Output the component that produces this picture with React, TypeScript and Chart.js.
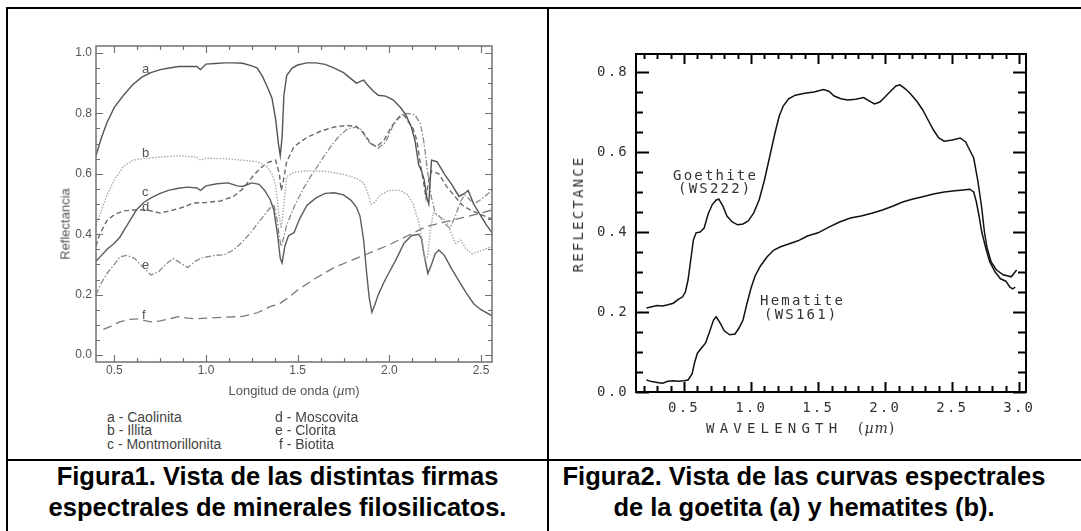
import React, { useEffect, useRef } from "react";
import { Chart, registerables } from "chart.js";

Chart.register(...registerables);

type Pt = [number, number];

// ---------- Figura 1: filosilicatos (wavelength µm, reflectance) ----------
const caolinita: Pt[] = [
  [0.40, 0.66], [0.43, 0.72], [0.46, 0.77], [0.50, 0.82], [0.55, 0.86], [0.60, 0.895], [0.65, 0.92],
  [0.70, 0.935], [0.75, 0.945], [0.80, 0.95], [0.85, 0.955], [0.90, 0.955], [0.95, 0.955], [0.97, 0.945],
  [1.00, 0.963], [1.05, 0.965], [1.10, 0.967], [1.15, 0.967], [1.20, 0.966], [1.25, 0.957], [1.28, 0.95],
  [1.31, 0.92], [1.34, 0.88], [1.36, 0.85], [1.38, 0.78], [1.395, 0.70], [1.405, 0.66], [1.415, 0.72],
  [1.425, 0.86], [1.44, 0.925], [1.47, 0.95], [1.50, 0.96], [1.55, 0.967], [1.60, 0.967], [1.65, 0.962],
  [1.70, 0.95], [1.75, 0.935], [1.79, 0.915], [1.82, 0.90], [1.84, 0.905], [1.86, 0.91], [1.88, 0.895],
  [1.91, 0.875], [1.94, 0.86], [1.98, 0.857], [2.02, 0.845], [2.06, 0.82], [2.09, 0.795], [2.12, 0.755],
  [2.14, 0.71], [2.16, 0.63], [2.175, 0.61], [2.19, 0.58], [2.205, 0.52], [2.215, 0.50], [2.23, 0.645],
  [2.26, 0.64], [2.30, 0.60], [2.34, 0.565], [2.38, 0.525], [2.41, 0.535], [2.43, 0.545], [2.46, 0.50],
  [2.50, 0.46], [2.53, 0.43], [2.56, 0.405],
];
const illita: Pt[] = [
  [0.40, 0.43], [0.43, 0.48], [0.46, 0.53], [0.50, 0.58], [0.55, 0.625], [0.60, 0.645], [0.68, 0.652],
  [0.75, 0.655], [0.85, 0.66], [0.95, 0.655], [0.97, 0.645], [1.00, 0.652], [1.10, 0.65], [1.20, 0.645],
  [1.28, 0.64], [1.33, 0.625], [1.36, 0.60], [1.38, 0.56], [1.395, 0.48], [1.41, 0.42], [1.42, 0.47],
  [1.44, 0.59], [1.48, 0.605], [1.55, 0.61], [1.65, 0.608], [1.75, 0.598], [1.82, 0.585], [1.86, 0.57],
  [1.88, 0.54], [1.90, 0.50], [1.92, 0.505], [1.95, 0.53], [2.00, 0.545], [2.06, 0.545], [2.10, 0.53],
  [2.13, 0.50], [2.16, 0.44], [2.18, 0.38], [2.195, 0.31], [2.21, 0.33], [2.225, 0.42], [2.24, 0.47],
  [2.27, 0.46], [2.31, 0.445], [2.34, 0.40], [2.36, 0.37], [2.39, 0.38], [2.42, 0.35], [2.45, 0.335],
  [2.50, 0.345], [2.56, 0.36],
];
const montmorillonita: Pt[] = [
  [0.40, 0.31], [0.43, 0.33], [0.46, 0.35], [0.50, 0.37], [0.53, 0.39], [0.56, 0.42], [0.59, 0.45],
  [0.62, 0.48], [0.66, 0.505], [0.70, 0.52], [0.75, 0.535], [0.80, 0.546], [0.85, 0.552], [0.90, 0.556],
  [0.95, 0.553], [0.97, 0.545], [1.00, 0.56], [1.06, 0.567], [1.12, 0.57], [1.17, 0.56], [1.20, 0.558],
  [1.25, 0.57], [1.29, 0.565], [1.32, 0.545], [1.35, 0.515], [1.37, 0.48], [1.39, 0.40], [1.405, 0.32],
  [1.415, 0.305], [1.43, 0.36], [1.45, 0.395], [1.48, 0.405], [1.51, 0.45], [1.55, 0.495], [1.60, 0.52],
  [1.65, 0.535], [1.70, 0.537], [1.75, 0.53], [1.79, 0.513], [1.82, 0.49], [1.84, 0.46], [1.86, 0.38],
  [1.875, 0.28], [1.89, 0.19], [1.905, 0.142], [1.92, 0.165], [1.94, 0.20], [1.97, 0.24], [2.00, 0.275],
  [2.04, 0.32], [2.08, 0.37], [2.12, 0.395], [2.16, 0.40], [2.175, 0.385], [2.19, 0.33], [2.21, 0.27],
  [2.23, 0.30], [2.25, 0.335], [2.27, 0.348], [2.30, 0.33], [2.34, 0.285], [2.38, 0.245], [2.42, 0.205],
  [2.46, 0.17], [2.50, 0.15], [2.56, 0.13],
];
const moscovita: Pt[] = [
  [0.40, 0.36], [0.42, 0.40], [0.46, 0.445], [0.50, 0.465], [0.55, 0.477], [0.60, 0.48], [0.68, 0.48],
  [0.75, 0.47], [0.82, 0.48], [0.88, 0.49], [0.93, 0.503], [1.00, 0.505], [1.08, 0.51], [1.15, 0.525],
  [1.20, 0.55], [1.26, 0.595], [1.30, 0.62], [1.34, 0.638], [1.38, 0.645], [1.40, 0.60], [1.41, 0.545],
  [1.42, 0.57], [1.44, 0.64], [1.48, 0.69], [1.55, 0.72], [1.62, 0.74], [1.70, 0.755], [1.77, 0.76],
  [1.82, 0.757], [1.86, 0.735], [1.90, 0.70], [1.93, 0.69], [1.97, 0.71], [2.01, 0.755], [2.05, 0.785],
  [2.08, 0.795], [2.10, 0.775], [2.13, 0.75], [2.15, 0.71], [2.17, 0.63], [2.19, 0.56], [2.20, 0.52],
  [2.215, 0.58], [2.23, 0.61], [2.27, 0.60], [2.31, 0.56], [2.35, 0.53], [2.40, 0.495], [2.45, 0.478],
  [2.50, 0.465], [2.56, 0.45],
];
const clorita: Pt[] = [
  [0.40, 0.20], [0.43, 0.24], [0.46, 0.27], [0.50, 0.30], [0.53, 0.325], [0.57, 0.33], [0.61, 0.32],
  [0.65, 0.295], [0.70, 0.265], [0.74, 0.275], [0.78, 0.30], [0.82, 0.32], [0.86, 0.305], [0.90, 0.29],
  [0.94, 0.31], [0.98, 0.322], [1.05, 0.33], [1.10, 0.332], [1.15, 0.348], [1.20, 0.375], [1.25, 0.41],
  [1.30, 0.45], [1.34, 0.48], [1.37, 0.50], [1.39, 0.44], [1.40, 0.39], [1.41, 0.36], [1.42, 0.38],
  [1.44, 0.43], [1.48, 0.49], [1.53, 0.55], [1.58, 0.60], [1.63, 0.645], [1.68, 0.69], [1.72, 0.72],
  [1.77, 0.748], [1.82, 0.755], [1.85, 0.745], [1.88, 0.71], [1.91, 0.695], [1.94, 0.685], [1.98, 0.705],
  [2.02, 0.76], [2.06, 0.795], [2.10, 0.80], [2.14, 0.795], [2.17, 0.765], [2.19, 0.70], [2.21, 0.60],
  [2.23, 0.52], [2.25, 0.47], [2.28, 0.455], [2.31, 0.43], [2.33, 0.42], [2.36, 0.46], [2.39, 0.51],
  [2.41, 0.53], [2.43, 0.52], [2.46, 0.50], [2.50, 0.515], [2.56, 0.545],
];
const biotita: Pt[] = [
  [0.44, 0.085], [0.48, 0.095], [0.53, 0.11], [0.58, 0.118], [0.63, 0.12], [0.66, 0.115], [0.70, 0.11],
  [0.75, 0.113], [0.80, 0.12], [0.85, 0.127], [0.90, 0.122], [0.95, 0.12], [1.00, 0.122], [1.10, 0.125],
  [1.20, 0.128], [1.28, 0.14], [1.35, 0.16], [1.40, 0.17], [1.45, 0.19], [1.50, 0.215], [1.60, 0.255],
  [1.70, 0.29], [1.80, 0.315], [1.90, 0.34], [2.00, 0.365], [2.10, 0.395], [2.20, 0.425], [2.30, 0.44],
  [2.40, 0.455], [2.50, 0.47], [2.56, 0.48],
];

// ---------- Figura 2: goethite / hematite ----------
const goethite: Pt[] = [
  [0.22, 0.21], [0.26, 0.213], [0.30, 0.216], [0.34, 0.215], [0.38, 0.218], [0.42, 0.222], [0.46, 0.232],
  [0.49, 0.238], [0.51, 0.25], [0.53, 0.28], [0.55, 0.33], [0.57, 0.38], [0.59, 0.398], [0.62, 0.40],
  [0.65, 0.41], [0.68, 0.445], [0.71, 0.468], [0.74, 0.48], [0.76, 0.482], [0.79, 0.465], [0.82, 0.44],
  [0.86, 0.425], [0.90, 0.418], [0.94, 0.42], [0.98, 0.428], [1.02, 0.448], [1.06, 0.48], [1.10, 0.53],
  [1.14, 0.59], [1.18, 0.65], [1.21, 0.69], [1.24, 0.715], [1.28, 0.733], [1.33, 0.742], [1.40, 0.747],
  [1.47, 0.75], [1.54, 0.756], [1.58, 0.752], [1.62, 0.74], [1.67, 0.733], [1.72, 0.73], [1.78, 0.732],
  [1.84, 0.736], [1.88, 0.728], [1.92, 0.72], [1.96, 0.725], [2.00, 0.738], [2.04, 0.752], [2.08, 0.765],
  [2.11, 0.768], [2.15, 0.758], [2.19, 0.745], [2.24, 0.725], [2.28, 0.705], [2.32, 0.68], [2.36, 0.655],
  [2.40, 0.635], [2.44, 0.627], [2.50, 0.63], [2.56, 0.635], [2.60, 0.625], [2.63, 0.605], [2.66, 0.585],
  [2.69, 0.53], [2.72, 0.46], [2.74, 0.40], [2.76, 0.36], [2.79, 0.325], [2.83, 0.305], [2.88, 0.293],
  [2.94, 0.288], [2.98, 0.305],
];
const hematite: Pt[] = [
  [0.22, 0.03], [0.26, 0.026], [0.30, 0.024], [0.34, 0.022], [0.38, 0.027], [0.42, 0.028], [0.46, 0.027],
  [0.50, 0.028], [0.53, 0.03], [0.56, 0.045], [0.58, 0.075], [0.60, 0.097], [0.63, 0.11], [0.66, 0.122],
  [0.69, 0.15], [0.72, 0.18], [0.74, 0.188], [0.77, 0.172], [0.80, 0.153], [0.84, 0.143], [0.88, 0.145],
  [0.91, 0.16], [0.94, 0.18], [0.97, 0.222], [1.00, 0.26], [1.03, 0.29], [1.07, 0.315], [1.12, 0.338],
  [1.17, 0.355], [1.22, 0.363], [1.28, 0.37], [1.35, 0.378], [1.42, 0.39], [1.50, 0.398], [1.58, 0.412],
  [1.66, 0.425], [1.74, 0.435], [1.82, 0.44], [1.90, 0.447], [1.98, 0.455], [2.06, 0.465], [2.13, 0.475],
  [2.20, 0.482], [2.28, 0.488], [2.36, 0.495], [2.44, 0.50], [2.52, 0.503], [2.58, 0.505], [2.63, 0.507],
  [2.66, 0.50], [2.68, 0.475], [2.70, 0.44], [2.72, 0.40], [2.75, 0.36], [2.78, 0.325], [2.82, 0.30],
  [2.86, 0.283], [2.90, 0.277], [2.93, 0.262], [2.95, 0.258], [2.97, 0.262],
];

// ---------- ticks / labels ----------
const fig1XTicks = [0.5, 1.0, 1.5, 2.0, 2.5];
const fig1YTicks = [0.0, 0.2, 0.4, 0.6, 0.8, 1.0];
const fig2XTicks = [0.5, 1.0, 1.5, 2.0, 2.5, 3.0];
const fig2YTicks = [0.0, 0.2, 0.4, 0.6, 0.8];
const fig1Legend1 = ["a - Caolinita", "b - Illita", "c - Montmorillonita"];
const fig1Legend2 = ["d - Moscovita", "e - Clorita", " f - Biotita"];

const SANS = "'Liberation Sans', Arial, Helvetica, sans-serif";
const MONO = "'DejaVu Sans Mono', monospace";

function steps(from: number, to: number, step: number): number[] {
  const out: number[] = [];
  for (let v = from; v <= to + 1e-9; v += step) out.push(+v.toFixed(4));
  return out;
}

type FrameCfg = {
  color: string; width: number; tickWidth: number;
  xMajor: number[]; xMinor: number[]; yMajor: number[]; yMinor: number[];
  bMaj: number; bMin: number; tMaj: number; tMin: number;
  lMaj: number; lMin: number; rMaj: number; rMin: number;
};

function framePlugin(cfg: FrameCfg) {
  return {
    id: "frame",
    afterDatasetsDraw(chart: any) {
      const { ctx, chartArea: a, scales } = chart;
      const xs = scales.x, ys = scales.y;
      ctx.save();
      ctx.strokeStyle = cfg.color;
      ctx.lineWidth = cfg.tickWidth;
      ctx.beginPath();
      const xTick = (v: number, lb: number, lt: number) => {
        const p = Math.round(xs.getPixelForValue(v)) + 0.5;
        ctx.moveTo(p, a.bottom); ctx.lineTo(p, a.bottom - lb);
        ctx.moveTo(p, a.top); ctx.lineTo(p, a.top + lt);
      };
      const yTick = (v: number, ll: number, lr: number) => {
        const p = Math.round(ys.getPixelForValue(v)) + 0.5;
        ctx.moveTo(a.left, p); ctx.lineTo(a.left + ll, p);
        ctx.moveTo(a.right, p); ctx.lineTo(a.right - lr, p);
      };
      cfg.xMinor.forEach((v) => xTick(v, cfg.bMin, cfg.tMin));
      cfg.xMajor.forEach((v) => xTick(v, cfg.bMaj, cfg.tMaj));
      cfg.yMinor.forEach((v) => yTick(v, cfg.lMin, cfg.rMin));
      cfg.yMajor.forEach((v) => yTick(v, cfg.lMaj, cfg.rMaj));
      ctx.stroke();
      ctx.lineWidth = cfg.width;
      ctx.strokeRect(a.left, a.top, a.right - a.left, a.bottom - a.top);
      ctx.restore();
    },
  };
}

const letterSpacingPlugin = (sp: string) => ({
  id: "ls",
  beforeDraw(chart: any) { (chart.ctx as any).letterSpacing = sp; },
  afterDraw(chart: any) { (chart.ctx as any).letterSpacing = "0px"; },
});

const toXY = (pts: Pt[]) => pts.map(([x, y]) => ({ x, y }));

function line(label: string, pts: Pt[], color: string, width: number, dash: number[]) {
  return {
    label, data: toXY(pts), borderColor: color, borderWidth: width, borderDash: dash,
    pointRadius: 0, fill: false, tension: 0,
  };
}

function fig1Config(): any {
  return {
    type: "line",
    data: {
      datasets: [
        line("a - Caolinita", caolinita, "#555", 1.4, []),
        line("b - Illita", illita, "#aaa", 1.4, [1.5, 1.5]),
        line("c - Montmorillonita", montmorillonita, "#5c5c5c", 1.4, []),
        line("d - Moscovita", moscovita, "#6a6a6a", 1.4, [5, 3]),
        line("e - Clorita", clorita, "#8a8a8a", 1.3, [6, 2, 1.5, 2]),
        line("f - Biotita", biotita, "#7a7a7a", 1.3, [9, 5]),
      ],
    },
    options: {
      animation: false, responsive: false, maintainAspectRatio: false, events: [],
      layout: { padding: { left: 0, top: 36, right: 54, bottom: 8 } },
      plugins: { legend: { display: false }, tooltip: { enabled: false }, title: { display: false } },
      scales: {
        x: {
          type: "linear", min: 0.4, max: 2.56,
          grid: { display: false, drawTicks: false }, border: { display: false },
          afterBuildTicks: (s: any) => { s.ticks = fig1XTicks.map((v) => ({ value: v })); },
          afterFit: (s: any) => { s.height = 20; },
          ticks: {
            padding: 1, color: "#555", font: { family: SANS, size: 12 }, maxRotation: 0, autoSkip: false,
            callback: (v: any) => Number(v).toFixed(1),
          },
        },
        y: {
          type: "linear", min: -0.023, max: 1.023,
          grid: { display: false, drawTicks: false }, border: { display: false },
          afterBuildTicks: (s: any) => { s.ticks = fig1YTicks.map((v) => ({ value: v })); },
          afterFit: (s: any) => { s.width = 88; },
          ticks: {
            padding: 4, color: "#555", font: { family: SANS, size: 12 }, autoSkip: false,
            callback: (v: any) => Number(v).toFixed(1),
          },
        },
      },
    },
    plugins: [
      framePlugin({
        color: "#707070", width: 1.5, tickWidth: 1.2,
        xMajor: fig1XTicks, xMinor: steps(0.5, 2.5, 0.125), yMajor: fig1YTicks, yMinor: steps(0, 1, 0.05),
        bMaj: 7, bMin: 4, tMaj: 7, tMin: 4, lMaj: 7, lMin: 4, rMaj: 7, rMin: 4,
      }),
    ],
  };
}

function fig2Config(): any {
  return {
    type: "line",
    data: {
      datasets: [
        line("Goethite (WS222)", goethite, "#111", 1.5, []),
        line("Hematite (WS161)", hematite, "#111", 1.5, []),
      ],
    },
    options: {
      animation: false, responsive: false, maintainAspectRatio: false, events: [],
      layout: { padding: { left: 0, top: 42, right: 53, bottom: 30 } },
      plugins: { legend: { display: false }, tooltip: { enabled: false }, title: { display: false } },
      scales: {
        x: {
          type: "linear", min: 0.142, max: 3.05,
          grid: { display: false, drawTicks: false }, border: { display: false },
          afterBuildTicks: (s: any) => { s.ticks = fig2XTicks.map((v) => ({ value: v })); },
          afterFit: (s: any) => { s.height = 30; },
          ticks: {
            padding: 8, color: "#333", font: { family: MONO, size: 14 }, maxRotation: 0, autoSkip: false,
            callback: (v: any) => Number(v).toFixed(1),
          },
        },
        y: {
          type: "linear", min: 0, max: 0.845,
          grid: { display: false, drawTicks: false }, border: { display: false },
          afterBuildTicks: (s: any) => { s.ticks = fig2YTicks.map((v) => ({ value: v })); },
          afterFit: (s: any) => { s.width = 84; },
          ticks: {
            padding: 7, color: "#333", font: { family: MONO, size: 14 }, autoSkip: false,
            callback: (v: any) => Number(v).toFixed(1),
          },
        },
      },
    },
    plugins: [
      letterSpacingPlugin("2.2px"),
      framePlugin({
        color: "#000", width: 2, tickWidth: 2,
        xMajor: fig2XTicks, xMinor: steps(0.2, 3.0, 0.1), yMajor: fig2YTicks, yMinor: steps(0, 0.8, 0.05),
        bMaj: 10, bMin: 6, tMaj: 10, tMin: 5, lMaj: 13, lMin: 7, rMaj: 13, rMin: 8,
      }),
    ],
  };
}

const abs = (s: React.CSSProperties): React.CSSProperties => ({ position: "absolute", ...s });

export default function App() {
  const ref1 = useRef<HTMLCanvasElement>(null);
  const ref2 = useRef<HTMLCanvasElement>(null);

  useEffect(() => {
    const c1 = new Chart(ref1.current as HTMLCanvasElement, fig1Config());
    const c2 = new Chart(ref2.current as HTMLCanvasElement, fig2Config());
    return () => { c1.destroy(); c2.destroy(); };
  }, []);

  const curveLabel = (t: string, top: number) => (
    <div key={t} style={abs({ left: 142, top: top - 8, font: `13px ${SANS}`, color: "#555", lineHeight: "16px" })}>{t}</div>
  );

  const mono = (extra: React.CSSProperties): React.CSSProperties =>
    abs({ fontFamily: MONO, fontSize: 14, color: "#333", letterSpacing: "2.2px", whiteSpace: "pre", lineHeight: "14px", ...extra });

  const caption: React.CSSProperties = {
    font: `bold 25.5px ${SANS}`, lineHeight: "31px", color: "#000", textAlign: "center", whiteSpace: "nowrap",
  };

  return (
    <div style={{ position: "fixed", left: 0, top: 0, width: 1081, height: 531, background: "#fff", overflow: "hidden" }}>
      {/* table lines */}
      <div style={abs({ left: 6, top: 7, width: 1075, height: 2, background: "#000" })} />
      <div style={abs({ left: 6, top: 7, width: 2, height: 524, background: "#000" })} />
      <div style={abs({ left: 547, top: 7, width: 2, height: 524, background: "#000" })} />
      <div style={abs({ left: 6, top: 459, width: 1075, height: 2, background: "#000" })} />

      {/* Figure 1 */}
      <canvas ref={ref1} width={538} height={380} style={abs({ left: 8, top: 10, width: 538, height: 380 })} />
      <div style={abs({ left: 65, top: 224, transform: "translate(-50%, -50%) rotate(-90deg)", font: `13px ${SANS}`, color: "#555", whiteSpace: "nowrap" })}>
        Reflectancia
      </div>
      <div style={abs({ left: 294, top: 390, transform: "translate(-50%, -50%)", font: `13px ${SANS}`, color: "#555", whiteSpace: "nowrap" })}>
        Longitud de onda (<i>µ</i>m)
      </div>
      {curveLabel("a", 69)}
      {curveLabel("b", 153)}
      {curveLabel("c", 192)}
      {curveLabel("d", 207)}
      {curveLabel("e", 265)}
      {curveLabel("f", 315)}
      <div style={abs({ left: 107, top: 411, font: `14px ${SANS}`, color: "#444", lineHeight: "13.3px", whiteSpace: "pre" })}>
        {fig1Legend1.map((t) => <div key={t}>{t}</div>)}
      </div>
      <div style={abs({ left: 275, top: 411, font: `14px ${SANS}`, color: "#444", lineHeight: "13.3px", whiteSpace: "pre" })}>
        {fig1Legend2.map((t) => <div key={t}>{t}</div>)}
      </div>

      {/* Figure 2 */}
      <canvas ref={ref2} width={527} height={440} style={abs({ left: 552, top: 12, width: 527, height: 440 })} />
      <div style={mono({ left: 578, top: 214, transform: "translate(-50%, -50%) rotate(-90deg)" })}>REFLECTANCE</div>
      <div style={mono({ left: 706, top: 421, letterSpacing: "5.2px" })}>WAVELENGTH</div>
      <div style={mono({ left: 858, top: 421, letterSpacing: "1px", fontFamily: "'DejaVu Serif', serif" })}>(<i>µm</i>)</div>
      <div style={mono({ left: 673, top: 168 })}>Goethite</div>
      <div style={mono({ left: 678, top: 181 })}>(WS222)</div>
      <div style={mono({ left: 760, top: 293 })}>Hematite</div>
      <div style={mono({ left: 764, top: 307 })}>(WS161)</div>

      {/* captions */}
      <div style={abs({ left: 8, top: 461, width: 539, ...caption })}>
        Figura1. Vista de las distintas firmas<br />espectrales de minerales filosilicatos.
      </div>
      <div style={abs({ left: 549, top: 461, width: 510, ...caption })}>
        Figura2. Vista de las curvas espectrales<br />de la goetita (a) y hematites (b).
      </div>
    </div>
  );
}
